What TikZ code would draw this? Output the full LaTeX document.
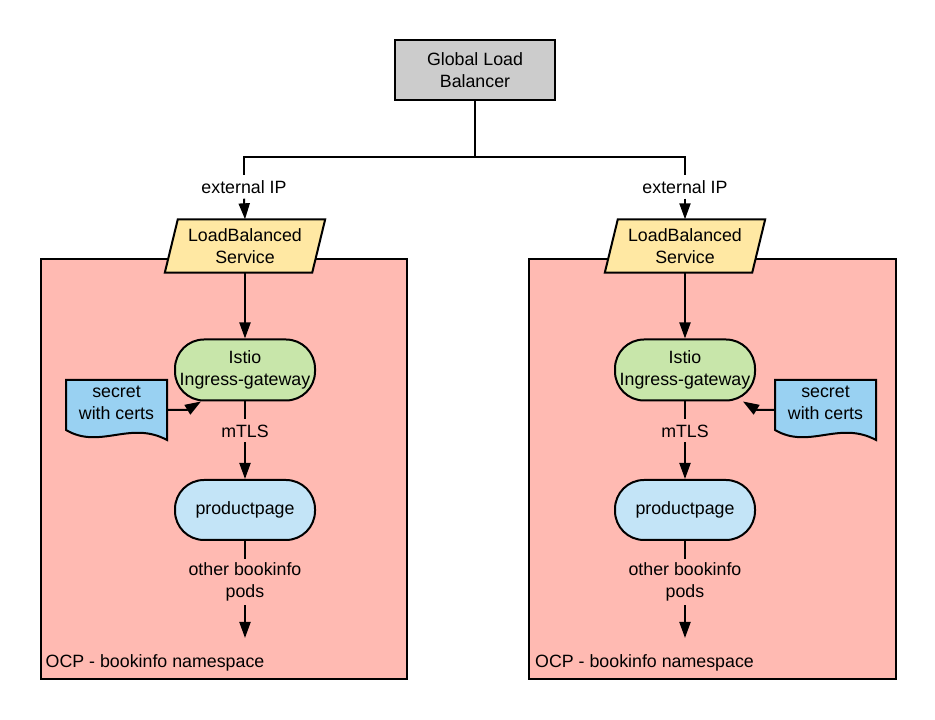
\documentclass[tikz,border=0pt]{standalone}
\usepackage{fontspec}
\setmainfont{Liberation Sans}
\usetikzlibrary{arrows.meta,calc}
\pgfdeclarelayer{bg}
\pgfdeclarelayer{mid}
\pgfsetlayers{bg,mid,main}
\definecolor{glbc}{HTML}{CCCCCC}
\definecolor{nsc}{HTML}{FFBAB2}
\definecolor{lbc}{HTML}{FFE8A3}
\definecolor{istc}{HTML}{C8E6AA}
\definecolor{ppc}{HTML}{C3E4F7}
\definecolor{secc}{HTML}{99D1F2}
\begin{document}
\begin{tikzpicture}[x=1pt,y=1pt,
  font=\fontsize{17.8}{22}\selectfont,
  box/.style={draw=black, line width=2pt, align=center, inner sep=0pt},
  nsbox/.style={draw=black, fill=nsc, line width=2pt, inner sep=0pt, anchor=south west, minimum width=366, minimum height=420},
  pill/.style={box, rounded corners=29, minimum width=140},
  txt/.style={align=center, inner sep=0pt},
  lbl/.style={align=center, inner sep=5pt},
  shp/.style={draw=black, line width=2pt, line join=miter},
  conn/.style={line width=2pt},
  arr/.style={conn, -{Triangle[length=16pt,width=11pt]}},
]
\useasboundingbox (0,0) rectangle (935,720);

% namespaces
\begin{pgfonlayer}{bg}
\node[nsbox] (nsL) at (40,40) {};
\node[nsbox, minimum width=367] (nsR) at (528,40) {};
\end{pgfonlayer}
\node[txt, anchor=west] (ocpL) at (45.5,57) {OCP - bookinfo namespace};
\node[txt, anchor=west] (ocpR) at (535,57) {OCP - bookinfo namespace};

% global LB
\node[box, fill=glbc, minimum width=160, minimum height=60] (glb) at (475,650) {Global Load\\Balancer};
\coordinate (j) at (475,563);

% labels external IP
\node[lbl] (extL) at (244,533) {external IP};
\node[lbl] (extR) at (685,533) {external IP};
\draw[conn] (glb.south) -- (j) -| (extL.north);
\draw[conn] (j) -| (extR.north);

% LoadBalanced services
\node[txt, minimum width=147, minimum height=53] (lbL) at (245,474) {LoadBalanced\\Service};
\node[txt, minimum width=147, minimum height=53] (lbR) at (685,474) {LoadBalanced\\Service};
\begin{pgfonlayer}{mid}
\foreach \n in {lbL,lbR}{
  \draw[shp, fill=lbc] ($(\n.north west)+(6.5,0)$) -- ($(\n.north east)+(6.5,0)$)
    -- ($(\n.south east)+(-6.5,0)$) -- ($(\n.south west)+(-6.5,0)$) -- cycle;
}
\end{pgfonlayer}
\draw[arr] (extL.south) -- (lbL.north);
\draw[arr] (extR.south) -- (lbR.north);

% Istio
\node[pill, fill=istc, minimum height=61] (istL) at (245,350) {Istio\\Ingress-gateway};
\node[pill, fill=istc, minimum height=61] (istR) at (685,350) {Istio\\Ingress-gateway};
\draw[arr] (lbL.south) -- (istL.north);
\draw[arr] (lbR.south) -- (istR.north);

% mTLS
\node[lbl] (mtL) at (245,289) {mTLS};
\node[lbl] (mtR) at (685,289) {mTLS};

% productpage
\node[pill, fill=ppc, minimum height=60] (ppL) at (245,210) {productpage};
\node[pill, fill=ppc, minimum height=60] (ppR) at (685,210) {productpage};
\draw[conn] (istL.south) -- (mtL.north);
\draw[conn] (istR.south) -- (mtR.north);
\draw[arr] (mtL.south) -- (ppL.north);
\draw[arr] (mtR.south) -- (ppR.north);

% other bookinfo pods
\node[lbl, inner sep=4pt] (otL) at (245,138) {other bookinfo\\pods};
\node[lbl, inner sep=4pt] (otR) at (685,138) {other bookinfo\\pods};
\coordinate (endL) at (245,82);
\coordinate (endR) at (685,82);
\draw[conn] (ppL.south) -- (otL.north);
\draw[conn] (ppR.south) -- (otR.north);
\draw[arr] (otL.south) -- (endL);
\draw[arr] (otR.south) -- (endR);

% secrets
\node[txt] (secL) at (116.5,317.5) {secret\\with certs};
\node[txt] (secR) at (825.5,317.5) {secret\\with certs};
\begin{pgfonlayer}{mid}
\foreach \n in {secL,secR}{
  \draw[shp, fill=secc] ($(\n.center)+(-50.5,22.5)$) -- ($(\n.center)+(50.5,22.5)$)
    -- ($(\n.center)+(50.5,-37.5)$)
    .. controls ($(\n.center)+(13.5,-17.5)$) and ($(\n.center)+(-16.5,-47.5)$) ..
    ($(\n.center)+(-50.5,-27.5)$) -- cycle;
}
\end{pgfonlayer}
\coordinate (secLr) at ($(secL.center)+(50.5,-7.5)$);
\coordinate (secRl) at ($(secR.center)+(-50.5,-7.5)$);
\draw[arr] (secLr) -- (187,310) -- ($(istL.south west)+(27,0)$);
\draw[arr] (secRl) -- (757,310) -- ($(istR.south east)+(-13,0)$);
\end{tikzpicture}
\end{document}
